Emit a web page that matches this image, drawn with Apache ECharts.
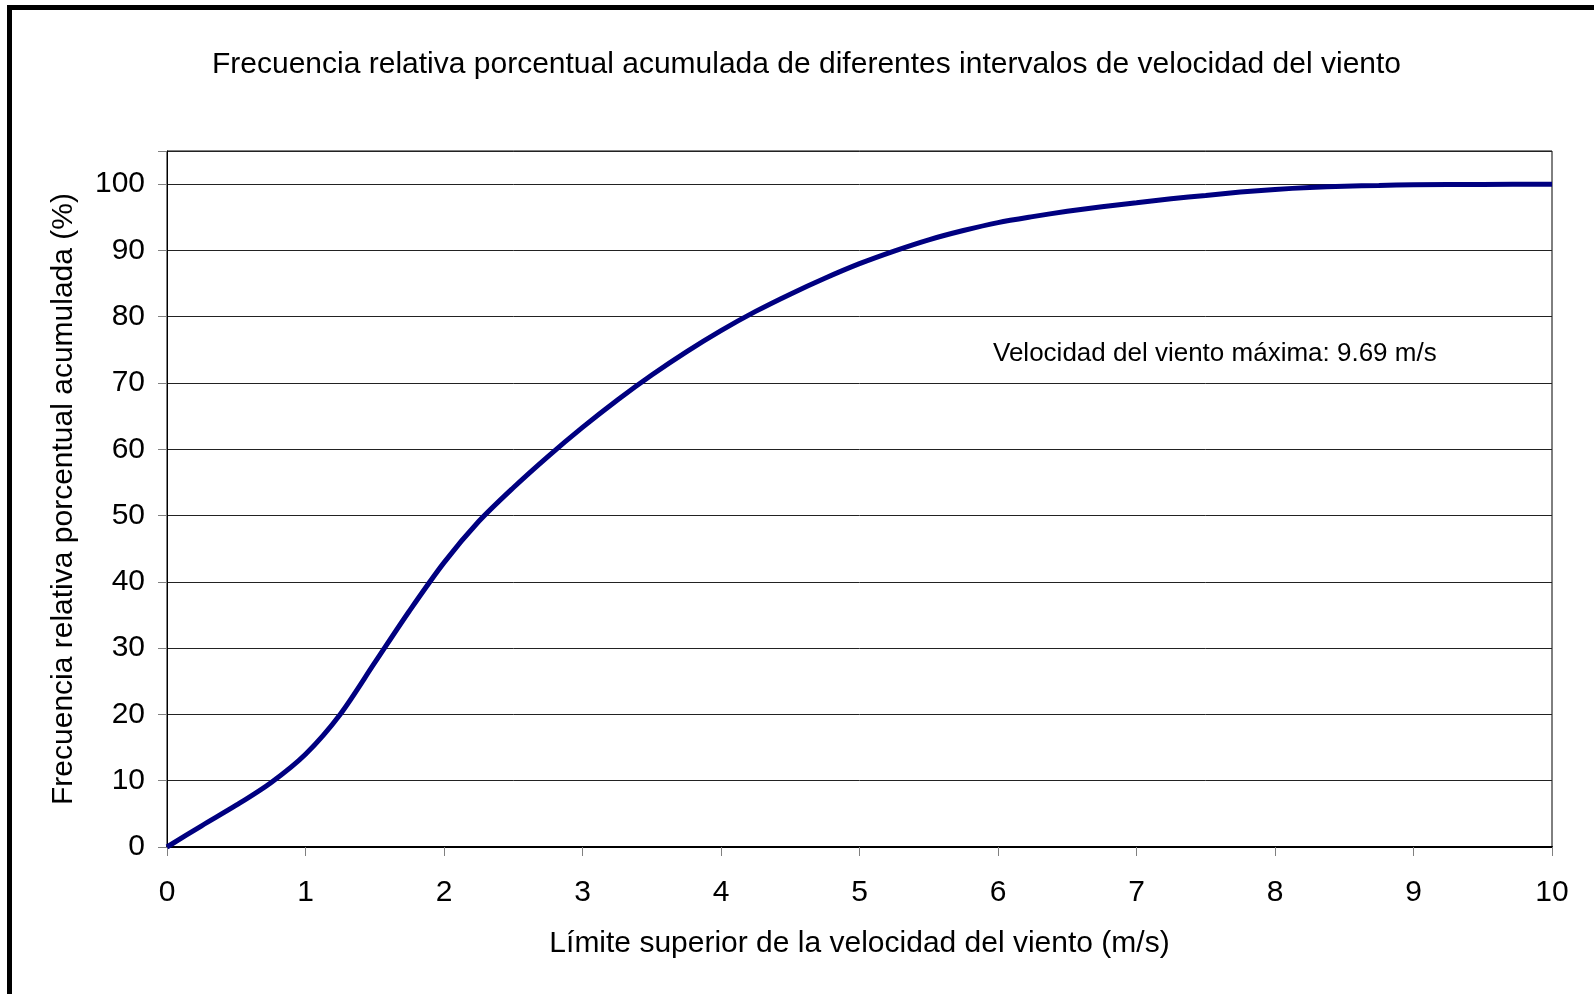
<!DOCTYPE html>
<html>
<head>
<meta charset="utf-8">
<script src="https://cdn.jsdelivr.net/npm/echarts@6/dist/echarts.min.js"></script>
<style>
html,body{margin:0;padding:0;background:#fff;}
#chart{width:1594px;height:994px;}
</style>
</head>
<body>
<div id="chart"></div>
<script>
const titleText = 'Frecuencia relativa porcentual acumulada de diferentes intervalos de velocidad del viento';
const xAxisName = 'Límite superior de la velocidad del viento (m/s)';
const yAxisName = 'Frecuencia relativa porcentual acumulada (%)';
const noteText = 'Velocidad del viento máxima: 9.69 m/s';

const speeds = [0, 0.25, 0.5, 0.75, 1.0, 1.25, 1.5, 1.75, 2.0, 2.25, 2.5, 2.75, 3.0, 3.25, 3.5, 3.75, 4.0, 4.25, 4.5, 4.75, 5.0, 5.25, 5.5, 5.75, 6.0, 6.25, 6.5, 6.75, 7.0, 7.25, 7.5, 7.75, 8.0, 8.25, 8.5, 8.75, 9.0, 9.5, 10];
const cumFreq = [0, 3.2, 6.3, 9.7, 14.0, 20.0, 27.8, 35.6, 42.9, 49.1, 54.2, 58.9, 63.3, 67.4, 71.2, 74.7, 77.9, 80.8, 83.4, 85.8, 88.0, 89.9, 91.6, 93.0, 94.2, 95.1, 95.9, 96.6, 97.2, 97.8, 98.3, 98.8, 99.2, 99.5, 99.7, 99.8, 99.9, 99.95, 100];

const FONT = "'Liberation Sans', Arial, sans-serif";

const chart = echarts.init(document.getElementById('chart'), null, {renderer: 'canvas'});
chart.setOption({
  backgroundColor: '#fff',
  animation: false,
  title: {
    text: titleText,
    left: 207,
    top: 45,
    textStyle: {fontFamily: FONT, fontSize: 30, fontWeight: 'normal', color: '#000'}
  },
  grid: {
    left: 167, right: 42, top: 151, bottom: 147,
    show: true, borderColor: '#000', borderWidth: 1, backgroundColor: '#fff'
  },
  xAxis: {
    type: 'value',
    min: 0, max: 10, interval: 1,
    name: xAxisName,
    nameLocation: 'middle',
    nameGap: 82,
    nameTextStyle: {fontFamily: FONT, fontSize: 30, color: '#000'},
    axisLine: {show: true, lineStyle: {color: '#000', width: 2}},
    axisTick: {show: true, length: 9, lineStyle: {color: '#808080', width: 1}},
    axisLabel: {margin: 31, fontFamily: FONT, fontSize: 30, color: '#000'},
    splitLine: {show: false}
  },
  yAxis: {
    type: 'value',
    min: 0, max: 105, interval: 10,
    name: yAxisName,
    nameLocation: 'middle',
    nameGap: 88,
    nameTextStyle: {fontFamily: FONT, fontSize: 30, color: '#000'},
    axisLine: {show: true, lineStyle: {color: '#000', width: 1}},
    axisTick: {show: true, length: 9, lineStyle: {color: '#808080', width: 1}},
    axisLabel: {
      margin: 22, fontFamily: FONT, fontSize: 30, color: '#000',
      formatter: function (v) { return v > 100 ? '' : String(v); }
    },
    splitLine: {show: true, lineStyle: {color: '#222', width: 1}}
  },
  series: [{
    type: 'line',
    data: speeds.map((s, i) => [s, cumFreq[i]]),
    smooth: 0.3,
    symbol: 'none',
    lineStyle: {color: '#000080', width: 5},
    z: 5
  }],
  graphic: [
    {
      type: 'rect',
      shape: {x: 9.5, y: 7.5, width: 1700, height: 1100},
      style: {fill: null, stroke: '#000', lineWidth: 5},
      silent: true
    },
    {
      type: 'text',
      left: 993,
      top: 341,
      style: {text: noteText, fontFamily: FONT, fontSize: 26, fill: '#000'}
    }
  ]
});
</script>
</body>
</html>
